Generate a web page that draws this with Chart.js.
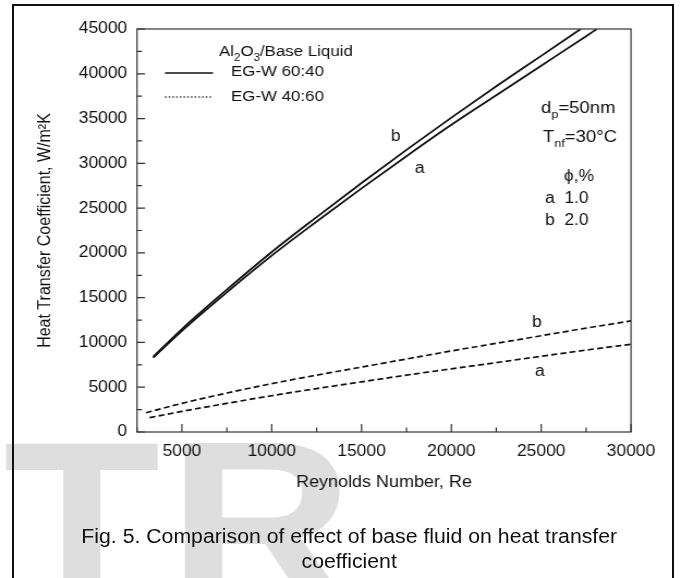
<!DOCTYPE html>
<html>
<head>
<meta charset="utf-8">
<title>Fig. 5 - base fluid vs heat transfer coefficient</title>
<script src="https://cdn.jsdelivr.net/npm/chart.js@4.4.0/dist/chart.umd.min.js"></script>
<style>
  html, body { margin: 0; padding: 0; background: #fff; overflow: hidden; }
  #page { position: relative; width: 681px; height: 578px; overflow: hidden; background: #fff; }
  /* the scanned figure is a bit wider than tall, so everything is stretched in x */
  #stretch { position: absolute; left: 0; top: 0; width: 625px; height: 578px; transform: scaleX(1.0896); transform-origin: 0 0; }
  #chart-wrap { position: absolute; left: 0; top: 0; width: 625px; height: 578px; }
  #caption {
    position: absolute; left: 8px; top: 524px; width: 625px;
    text-align: center; white-space: nowrap; color: #111;
    font: 19.5px 'Liberation Sans', Arial, sans-serif; line-height: 25px;
  }
  #frame { position: absolute; left: 12px; top: 4px; width: 658px; height: 620px; border: 2px solid #111; }
</style>
</head>
<body>
<div id="page">
  <div id="stretch">
    <div id="chart-wrap"><canvas id="htc-chart"></canvas></div>
    <div id="caption">Fig. 5. Comparison of effect of base fluid on heat transfer<br>coefficient</div>
  </div>
  <div id="frame"></div>
</div>

<script>
// ---------------------------
// Data
// ---------------------------

// EG-W 60:40 (solid), a = 1.0 %, b = 2.0 %
const reSolidA = [3400, 5000, 7500, 10000, 12500, 15000, 17500, 20000, 22500, 25000, 27500, 28100];
const hSolidA  = [8300, 11300, 15600, 19700, 23500, 27200, 30800, 34300, 37600, 40900, 44200, 45000];
const reSolidB = [3400, 5000, 7500, 10000, 12500, 15000, 17500, 20000, 22500, 25000, 27200];
const hSolidB  = [8400, 11500, 15900, 20100, 24000, 27800, 31500, 35100, 38600, 42000, 45000];

// EG-W 40:60 (dashed)
const reDashA = [3200, 5000, 7500, 10000, 12500, 15000, 17500, 20000, 22500, 25000, 27500, 30000];
const hDashA  = [1600, 2300, 3200, 4050, 4850, 5600, 6350, 7050, 7750, 8450, 9150, 9800];
const reDashB = [3000, 5000, 7500, 10000, 12500, 15000, 17500, 20000, 22500, 25000, 27500, 30000];
const hDashB  = [2150, 3200, 4350, 5400, 6350, 7250, 8150, 9050, 9900, 10750, 11600, 12400];

const xTicks = [5000, 10000, 15000, 20000, 25000, 30000];
const yTicks = [0, 5000, 10000, 15000, 20000, 25000, 30000, 35000, 40000, 45000];

// ---------------------------
// Layout (page px -> canvas px)
// ---------------------------
const SX = 681 / 625;
const FONT = "'Liberation Sans', Arial, sans-serif";
const INK = '#111';

function px(xPage) { return xPage / SX; }

function toPoints(xs, ys) {
  return xs.map((v, i) => ({ x: v, y: ys[i] }));
}

// draws text runs with sub/superscripts, vertically centred on y
function drawRich(ctx, parts, x, y, size) {
  let cx = x;
  parts.forEach(([text, kind]) => {
    const s = kind ? size * 0.68 : size;
    const dy = kind === 'sub' ? size * 0.42 : kind === 'sup' ? -size * 0.38 : 0;
    ctx.font = s + 'px ' + FONT;
    ctx.fillText(text, cx, y + dy);
    cx += ctx.measureText(text).width;
  });
}

const figureDecor = {
  id: 'figureDecor',
  beforeDraw(chart) {
    // faint journal watermark behind the lower part
    const ctx = chart.ctx;
    ctx.save();
    ctx.fillStyle = '#dedede';
    ctx.font = 'bold 236px ' + FONT;
    ctx.textBaseline = 'alphabetic';
    ctx.fillText('T', 3, 606);
    ctx.fillText('R', 154, 606);
    ctx.restore();
  },
  afterDraw(chart) {
    const { ctx, chartArea: a, scales: { x, y } } = chart;
    ctx.save();

    // plot box
    ctx.strokeStyle = '#333';
    ctx.lineWidth = 1.2;
    ctx.strokeRect(a.left, a.top, a.right - a.left, a.bottom - a.top);

    // inward tick marks, majors every 5000, minors in between
    ctx.beginPath();
    for (let v = x.min; v <= x.max; v += 2500) {
      const p = x.getPixelForValue(v);
      const len = v % 5000 === 0 ? 8 : 4.5;
      ctx.moveTo(p, a.bottom);
      ctx.lineTo(p, a.bottom - len);
    }
    for (let v = y.min; v <= y.max; v += 2500) {
      const p = y.getPixelForValue(v);
      const len = (v % 5000 === 0 ? 8 : 5) / SX;
      ctx.moveTo(a.left, p);
      ctx.lineTo(a.left + len, p);
    }
    ctx.stroke();

    ctx.fillStyle = INK;
    ctx.textBaseline = 'middle';
    ctx.textAlign = 'left';

    // legend
    drawRich(ctx, [['Al'], ['2', 'sub'], ['O'], ['3', 'sub'], ['/Base Liquid']], px(219), 52, 15.5);
    ctx.strokeStyle = INK;
    ctx.lineWidth = 1.6;
    ctx.beginPath();
    ctx.moveTo(px(165), 73);
    ctx.lineTo(px(213), 73);
    ctx.stroke();
    ctx.strokeStyle = '#333';
    ctx.lineWidth = 1.3;
    ctx.setLineDash([1.4, 2]);
    ctx.beginPath();
    ctx.moveTo(px(165), 97);
    ctx.lineTo(px(213), 97);
    ctx.stroke();
    ctx.setLineDash([]);
    ctx.font = '15.5px ' + FONT;
    ctx.fillText('EG-W 60:40', px(231), 72);
    ctx.fillText('EG-W 40:60', px(231), 97);

    // curve labels
    ctx.font = '16px ' + FONT;
    ctx.fillText('b', px(391), 137);
    ctx.fillText('a', px(415), 169);
    ctx.fillText('b', px(532), 323);
    ctx.fillText('a', px(535), 372);

    // conditions
    drawRich(ctx, [['d'], ['p', 'sub'], ['=50nm']], px(541), 108, 17);
    drawRich(ctx, [['T'], ['nf', 'sub'], ['=30°C']], px(543), 137, 17);
    ctx.font = '16px ' + FONT;
    ctx.fillText('ϕ,%', px(564), 177);
    ctx.fillText('a  1.0', px(545), 199);
    ctx.fillText('b  2.0', px(545), 221);

    ctx.restore();
  }
};

function fixWidth(w) { return scale => { scale.width = w; }; }
function fixHeight(h) { return scale => { scale.height = h; }; }

const solidStyle = { borderColor: INK, borderWidth: 1.8, pointRadius: 0, cubicInterpolationMode: 'monotone', fill: false };
const dashStyle  = { borderColor: INK, borderWidth: 1.7, pointRadius: 0, cubicInterpolationMode: 'monotone', fill: false, borderDash: [5.5, 3] };

new Chart(document.getElementById('htc-chart'), {
  type: 'line',
  data: {
    datasets: [
      { label: 'EG-W 60:40 a', data: toPoints(reSolidA, hSolidA), ...solidStyle },
      { label: 'EG-W 60:40 b', data: toPoints(reSolidB, hSolidB), ...solidStyle },
      { label: 'EG-W 40:60 a', data: toPoints(reDashA, hDashA), ...dashStyle },
      { label: 'EG-W 40:60 b', data: toPoints(reDashB, hDashB), ...dashStyle }
    ]
  },
  options: {
    responsive: true,
    maintainAspectRatio: false,
    animation: false,
    layout: { padding: { left: 0, top: 29, right: 625 - px(631), bottom: 86 } },
    plugins: {
      legend: { display: false },
      tooltip: { enabled: false }
    },
    scales: {
      x: {
        type: 'linear',
        min: 2500,
        max: 30000,
        afterBuildTicks: scale => { scale.ticks = xTicks.map(v => ({ value: v })); },
        afterFit: fixHeight(60),
        grid: { display: false, drawTicks: false },
        border: { display: false },
        ticks: {
          color: INK,
          padding: 10,
          maxRotation: 0,
          font: { size: 16, family: FONT },
          callback: v => String(v)
        },
        title: {
          display: true,
          text: 'Reynolds Number, Re',
          color: INK,
          font: { size: 16.5, family: FONT },
          padding: { top: 0, bottom: 0 }
        }
      },
      y: {
        type: 'linear',
        min: 0,
        max: 45000,
        afterBuildTicks: scale => { scale.ticks = yTicks.map(v => ({ value: v })); },
        afterFit: fixWidth(px(137)),
        grid: { display: false, drawTicks: false },
        border: { display: false },
        ticks: {
          color: INK,
          padding: 9,
          font: { size: 16, family: FONT },
          callback: v => String(v)
        },
        title: {
          display: true,
          text: 'Heat Transfer Coefficient, W/m²K',
          color: INK,
          font: { size: 16, family: FONT },
          padding: { top: px(45) - 9.6, bottom: 0 }
        }
      }
    }
  },
  plugins: [figureDecor]
});
</script>
</body>
</html>
